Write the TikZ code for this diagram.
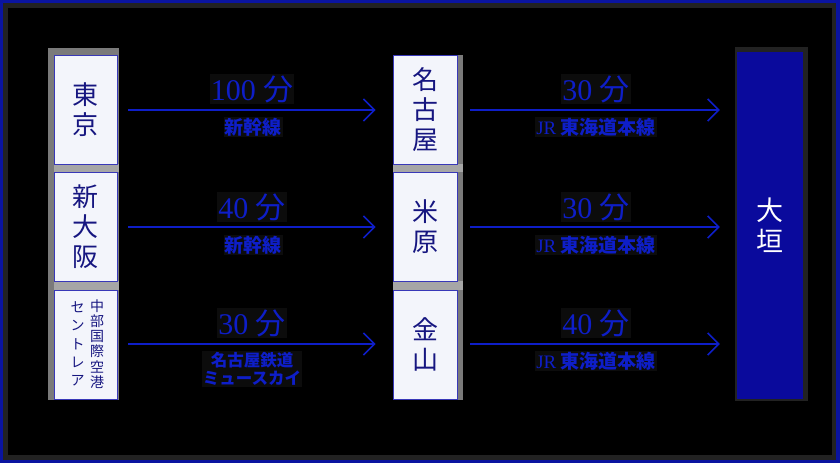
\documentclass[tikz,border=0pt]{standalone}
\usepackage{fontspec}
\setmainfont{Liberation Serif}
\newfontfamily\jp{Noto Sans CJK JP}
\usetikzlibrary{arrows.meta}
\definecolor{framebl}{HTML}{0A14A0}
\definecolor{bandgr}{HTML}{222222}
\definecolor{lblue}{HTML}{0E1EC8}
\definecolor{navy}{HTML}{161680}
\definecolor{boxfill}{HTML}{F3F5FB}
\definecolor{boxline}{HTML}{3838B8}
\definecolor{ogfill}{HTML}{0A0A9C}
\definecolor{panelgr}{HTML}{7A7A7A}
\definecolor{sepgr}{HTML}{A6A6A6}
\definecolor{lblbg}{HTML}{0C0C0C}
\tikzset{
  stbox/.style={draw=boxline, line width=0.8pt, fill=boxfill, minimum width=63pt,
    minimum height=109pt, inner sep=0pt, text=navy, align=center,
    font=\jp\fontsize{26}{30}\selectfont},
  ogbox/.style={fill=ogfill, draw=ogfill, minimum width=65pt, minimum height=346pt,
    inner sep=0pt, text=white, align=center, font=\jp\fontsize{27}{31}\selectfont},
  conn/.style={draw=lblue, line width=1.6pt, -{Straight Barb[length=11pt,width=22pt,line width=1.6pt]}},
  timelbl/.style={text=lblue, fill=lblbg, inner sep=1pt, font=\fontsize{30}{32}\selectfont},
  linelbl/.style={text=lblue, fill=lblbg, inner sep=1pt, align=center, font=\jp\bfseries\fontsize{19}{19}\selectfont},
  smalllbl/.style={text=lblue, fill=lblbg, inner sep=1pt, align=center, font=\jp\bfseries\fontsize{16.5}{18}\selectfont},
  vcol/.style={text=navy, inner sep=0pt, align=center}
}
\begin{document}
\begin{tikzpicture}[x=1pt,y=-1pt]
\useasboundingbox (0,0) rectangle (840,463);
% frame
\fill[framebl] (0,0) rectangle (840,463);
\fill[bandgr] (3,3) rectangle (836,460);
\fill[black] (8,8) rectangle (832,455);
% column panels
\fill[panelgr] (48,48) rectangle (119,400);
\fill[sepgr] (54,164) rectangle (119,172);
\fill[sepgr] (54,281) rectangle (119,290);
\fill[panelgr] (393,55) rectangle (463,400);
\fill[sepgr] (393,164) rectangle (463,172);
\fill[sepgr] (393,281) rectangle (463,290);
\fill[bandgr] (735,47) rectangle (808,401);
% boxes
\node[stbox] (tokyo) at (85.5,109.5) {東\\京};
\node[stbox] (shinosaka) at (85.5,226.5) {新\\大\\阪};
\node[stbox] (centrair) at (85.5,344.5) {};
\node[vcol, font=\jp\fontsize{14}{15.3}\selectfont] (cright) at (97,344) {中\\部\\国\\際\\空\\港};
\node[vcol, font=\jp\fontsize{14}{18.2}\selectfont] (cleft) at (77.5,344) {セ\\ン\\ト\\レ\\ア};
\node[stbox, minimum width=64pt] (nagoya) at (425,109.5) {名\\古\\屋};
\node[stbox, minimum width=64pt] (maibara) at (425,226.5) {米\\原};
\node[stbox, minimum width=64pt] (kanayama) at (425,344.5) {金\\山};
\node[ogbox] (ogaki) at (769.5,225) {大\\垣};
% connectors left
\draw[conn, shorten <=11pt, shorten >=17pt] (tokyo.east |- 0,110) coordinate (a1) -- (a1 -| nagoya.west) coordinate (b1);
\draw[conn, shorten <=11pt, shorten >=17pt] (shinosaka.east |- 0,227) coordinate (a2) -- (a2 -| maibara.west) coordinate (b2);
\draw[conn, shorten <=11pt, shorten >=17pt] (centrair.east |- 0,344) coordinate (a3) -- (a3 -| kanayama.west) coordinate (b3);
% connectors right
\draw[conn, shorten <=13pt, shorten >=17pt] (nagoya.east |- 0,110) coordinate (c1) -- (c1 -| ogaki.west) coordinate (d1);
\draw[conn, shorten <=13pt, shorten >=17pt] (maibara.east |- 0,227) coordinate (c2) -- (c2 -| ogaki.west) coordinate (d2);
\draw[conn, shorten <=13pt, shorten >=17pt] (kanayama.east |- 0,344) coordinate (c3) -- (c3 -| ogaki.west) coordinate (d3);
% labels
\node[timelbl] (t1) at (252,89) {100 {\jp 分}};
\node[linelbl] (l1) at (253,127) {新幹線};
\node[timelbl] (t2) at (252,207) {40 {\jp 分}};
\node[linelbl] (l2) at (253,245) {新幹線};
\node[timelbl] (t3) at (252,323) {30 {\jp 分}};
\node[smalllbl] (l3) at (252,369) {名古屋鉄道\\ミュースカイ};
\node[timelbl] (t4) at (596,89) {30 {\jp 分}};
\node[linelbl] (l4) at (596,127) {{\rmfamily\mdseries JR} 東海道本線};
\node[timelbl] (t5) at (596,207) {30 {\jp 分}};
\node[linelbl] (l5) at (596,245) {{\rmfamily\mdseries JR} 東海道本線};
\node[timelbl] (t6) at (596,323) {40 {\jp 分}};
\node[linelbl] (l6) at (596,361) {{\rmfamily\mdseries JR} 東海道本線};
\end{tikzpicture}
\end{document}
